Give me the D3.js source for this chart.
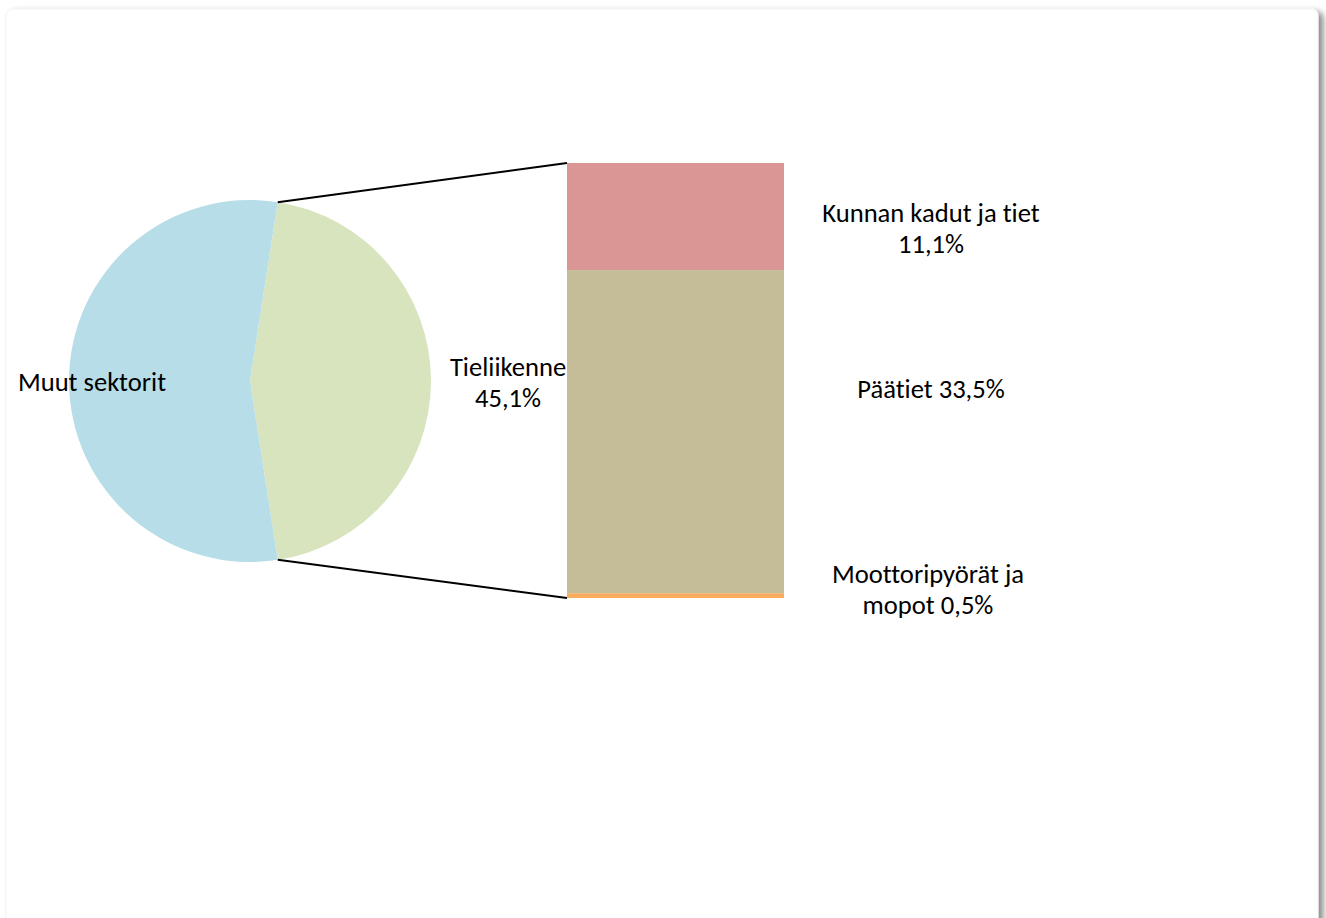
<!DOCTYPE html>
<html><head><meta charset="utf-8">
<script src="https://cdn.jsdelivr.net/npm/d3@7"></script>
<style>
html,body{margin:0;padding:0;background:#fff;}
text{font-family:Carlito,Calibri,"Open Sans",sans-serif;fill:#000;font-variant-ligatures:none;font-feature-settings:"liga" 0;}
</style></head>
<body>
<svg id="chart" width="1326" height="918"></svg>
<script>
const pieCategories = ["Tieliikenne", "Muut sektorit"];
const pieValues = [45.1, 54.9];
const pieColors = ["#D7E4BD", "#B7DDE8"];
const barCategories = ["Moottoripyörät ja mopot", "Päätiet", "Kunnan kadut ja tiet"];
const barValues = [0.5, 33.5, 11.1];
const barColors = ["#FAAB5C", "#C4BD97", "#D99694"];
const barLabels = [["Moottoripyörät ja", "mopot 0,5%"], ["Päätiet 33,5%"], ["Kunnan kadut ja tiet", "11,1%"]];

const svg = d3.select("#chart");
const defs = svg.append("defs");
const f = defs.append("filter").attr("id","sh").attr("x","-5%").attr("y","-5%").attr("width","115%").attr("height","115%");
f.append("feGaussianBlur").attr("in","SourceAlpha").attr("stdDeviation",3);
f.append("feOffset").attr("dx",5).attr("dy",3).attr("result","o");
f.append("feComponentTransfer").append("feFuncA").attr("type","linear").attr("slope",0.45);
const m = f.append("feMerge"); m.append("feMergeNode"); m.append("feMergeNode").attr("in","SourceGraphic");

svg.append("rect").attr("x",6).attr("y",9).attr("width",1312).attr("height",940)
  .attr("rx",6).attr("fill","#fff").attr("stroke","#f2f2f2").attr("filter","url(#sh)");

const cx = 250, cy = 381, r = 181;
const tieFrac = pieValues[0] / d3.sum(pieValues);
const start = Math.PI/2 - tieFrac*Math.PI;
const pie = d3.pie().sort(null).startAngle(start).endAngle(start + 2*Math.PI);
const arcs = pie(pieValues);
const arc = d3.arc().innerRadius(0).outerRadius(r);
const g = svg.append("g").attr("transform",`translate(${cx},${cy})`);
g.selectAll("path").data(arcs).join("path").attr("d",arc).attr("fill",(d,i)=>pieColors[i]);

// bar
const barX = 567, barW = 217, barTop = 163, barBottom = 598;
const total = d3.sum(barValues);
const y = d3.scaleLinear().domain([0,total]).range([barBottom, barTop]);
const cum = d3.cumsum(barValues);
const segs = barValues.map((v,i)=>({v, y0: cum[i]-v, y1: cum[i], i}));
svg.selectAll("rect.seg").data(segs).join("rect").attr("class","seg")
  .attr("x",barX).attr("width",barW)
  .attr("y",d=>y(d.y1)).attr("height",d=>y(d.y0)-y(d.y1))
  .attr("fill",d=>barColors[d.i]);

// connector lines
const a0 = arcs[0].startAngle, a1 = arcs[0].endAngle;
const p0 = [cx + r*Math.sin(a0), cy - r*Math.cos(a0)];
const p1 = [cx + r*Math.sin(a1), cy - r*Math.cos(a1)];
svg.append("line").attr("x1",p0[0]).attr("y1",p0[1]).attr("x2",barX).attr("y2",y(total)).attr("stroke","#000").attr("stroke-width",2);
svg.append("line").attr("x1",p1[0]).attr("y1",p1[1]).attr("x2",barX).attr("y2",y(0)).attr("stroke","#000").attr("stroke-width",2);

const fs = 26.6;
function label(lines, x, yc){
  const t = svg.append("text").attr("text-anchor","middle").attr("font-size",fs);
  const n = lines.length, lh = 31.5;
  lines.forEach((l,k)=>{
    t.append("tspan").attr("x",x).attr("y", yc + (k-(n-1)/2)*lh).attr("dy","0.36em").text(l);
  });
}
label(["Muut sektorit"], 92, 381);
label([pieCategories[0], "45,1%"], 508, 382);
const labelY = [589, 388, 228];
const labelX = [928, 931, 931];
barLabels.forEach((l,i)=>label(l, labelX[i], labelY[i]));
</script>
</body></html>
